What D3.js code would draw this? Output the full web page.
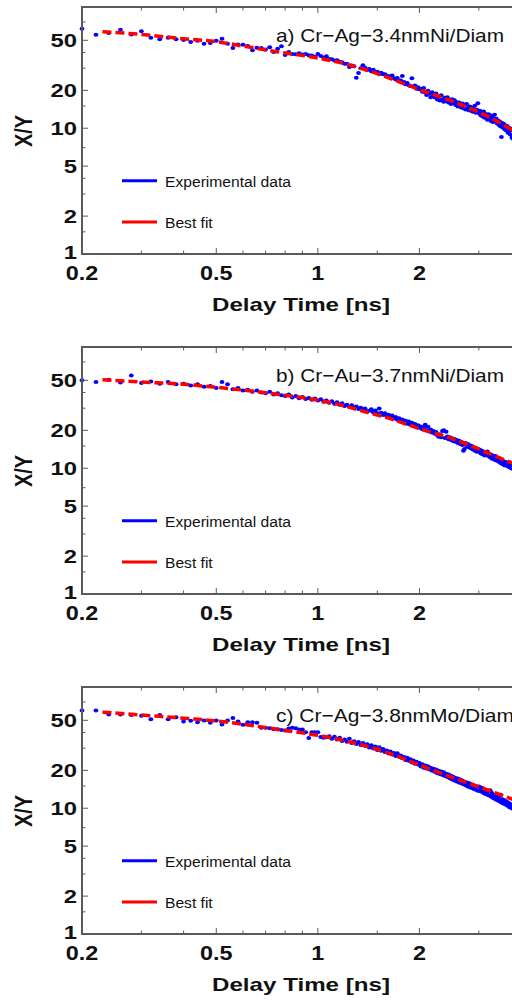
<!DOCTYPE html>
<html>
<head>
<meta charset="utf-8">
<script src="https://cdn.jsdelivr.net/npm/d3@7"></script>
<style>
  body { margin: 0; background: #fff; }
  text { font-family: "Liberation Sans", Arial, sans-serif; fill: #111; }
</style>
</head>
<body>
<svg id="chart" width="512" height="1000"></svg>
<script>
// delay times [ns]
const times = [
  0.2, 0.22, 0.24, 0.26, 0.28, 0.3, 0.32, 0.34, 0.36, 0.38,
  0.4, 0.42, 0.44, 0.46, 0.48, 0.5, 0.52, 0.54, 0.56, 0.58,
  0.6, 0.62, 0.64, 0.66, 0.68, 0.7, 0.72, 0.74, 0.76, 0.78,
  0.8, 0.82, 0.84, 0.86, 0.88, 0.9, 0.92, 0.94, 0.96, 0.98,
  1.0, 1.02, 1.04, 1.06, 1.08, 1.1, 1.12, 1.14, 1.16, 1.18,
  1.2, 1.22, 1.24, 1.26, 1.28, 1.3, 1.32, 1.34, 1.36, 1.38,
  1.4, 1.42, 1.44, 1.46, 1.48, 1.5, 1.52, 1.54, 1.56, 1.58,
  1.6, 1.62, 1.64, 1.66, 1.68, 1.7, 1.72, 1.74, 1.76, 1.78,
  1.8, 1.82, 1.84, 1.86, 1.88, 1.9, 1.92, 1.94, 1.96, 1.98,
  2.0, 2.02, 2.04, 2.06, 2.08, 2.1, 2.12, 2.14, 2.16, 2.18,
  2.2, 2.22, 2.24, 2.26, 2.28, 2.3, 2.32, 2.34, 2.36, 2.38,
  2.4, 2.42, 2.44, 2.46, 2.48, 2.5, 2.52, 2.54, 2.56, 2.58,
  2.6, 2.62, 2.64, 2.66, 2.68, 2.7, 2.72, 2.74, 2.76, 2.78,
  2.8, 2.82, 2.84, 2.86, 2.88, 2.9, 2.92, 2.94, 2.96, 2.98,
  3.0, 3.02, 3.04, 3.06, 3.08, 3.1, 3.12, 3.14, 3.16, 3.18,
  3.2, 3.22, 3.24, 3.26, 3.28, 3.3, 3.32, 3.34, 3.36, 3.38,
  3.4, 3.42, 3.44, 3.46, 3.48, 3.5, 3.52, 3.54, 3.56, 3.58,
  3.6, 3.62, 3.64, 3.66, 3.68, 3.7, 3.72, 3.74, 3.76, 3.78,
  3.8
];

// X/Y ratio, experimental
const seriesA = [
  61.8, 55.4, 57.1, 60.7, 55.7, 58.9, 52.5, 50.9, 52.5, 50.9,
  50.2, 48.4, 49.7, 47.0, 47.5, 49.7, 51.5, 47.0, 43.4, 46.4,
  46.1, 45.0, 41.6, 43.7, 43.4, 42.3, 44.0, 40.3, 42.9, 44.8,
  38.2, 40.3, 39.0, 38.7, 39.5, 38.5, 39.0, 38.0, 37.8, 37.0,
  39.0, 37.5, 36.5, 37.3, 35.5, 35.3, 34.5, 34.7, 33.8, 33.4,
  32.6, 32.5, 30.7, 31.5, 31.1, 25.2, 27.5, 30.0, 31.6, 30.3,
  29.0, 29.6, 28.4, 29.2, 27.9, 28.1, 27.0, 27.6, 26.8, 26.9,
  26.1, 25.9, 25.3, 26.2, 25.0, 24.4, 25.1, 23.6, 24.0, 26.0,
  23.3, 22.4, 22.9, 22.0, 21.7, 25.0, 21.5, 21.9, 20.6, 21.2,
  20.4, 20.6, 19.5, 20.9, 19.2, 18.4, 19.9, 18.8, 17.6, 19.3,
  18.2, 17.6, 18.9, 16.9, 17.8, 16.6, 18.3, 17.0, 16.2, 17.5,
  16.4, 17.6, 16.0, 16.8, 15.6, 17.0, 15.9, 16.7, 15.3, 16.1,
  14.9, 16.0, 15.2, 14.6, 15.7, 14.4, 15.4, 14.1, 15.6, 14.5,
  13.9, 14.9, 13.8, 14.6, 13.5, 14.2, 15.1, 13.3, 14.0, 15.8,
  13.2, 13.8, 12.7, 13.4, 12.4, 13.6, 12.1, 13.0, 12.6, 11.7,
  12.9, 11.9, 12.7, 11.4, 12.3, 11.2, 12.0, 12.8, 11.3, 11.9,
  10.9, 11.5, 10.6, 11.3, 10.3, 8.5, 11.0, 10.1, 10.8, 9.8,
  10.5, 9.6, 10.4, 9.2, 10.1, 9.5, 8.9, 9.9, 8.4, 9.7,
  8.2
];
const seriesB = [
  50.0, 48.5, 50.5, 48.0, 54.5, 47.5, 49.0, 47.0, 48.5, 46.5,
  47.0, 45.5, 46.5, 44.5, 45.0, 43.5, 48.5, 46.5, 42.5, 43.5,
  41.5, 42.0, 40.5, 41.5, 40.0, 39.5, 40.5, 38.5, 39.5, 38.0,
  37.5, 38.5, 36.5, 37.5, 36.0, 36.8, 35.5, 36.2, 35.0, 35.8,
  34.5, 35.3, 33.8, 34.6, 33.2, 34.0, 32.6, 33.5, 32.0, 32.8,
  31.3, 32.0, 30.8, 31.6, 30.2, 30.9, 29.6, 30.3, 29.0, 29.8,
  28.4, 28.6, 29.5, 27.9, 28.8, 27.4, 29.8, 27.6, 26.5, 27.3,
  26.0, 26.6, 25.4, 26.2, 24.8, 25.5, 24.3, 25.0, 23.6, 24.4,
  23.1, 23.8, 22.6, 23.5, 22.2, 23.0, 21.8, 22.5, 21.2, 22.0,
  21.0, 21.5, 20.4, 21.0, 22.2, 20.0, 21.4, 19.6, 20.3, 19.2,
  19.8, 18.8, 19.4, 18.3, 17.8, 18.6, 17.6, 19.8, 20.0, 17.4,
  19.5, 17.9, 17.0, 17.6, 16.8, 17.3, 16.4, 17.1, 16.2, 16.8,
  15.9, 16.5, 15.6, 16.2, 15.3, 13.8, 14.2, 15.9, 15.1, 15.6,
  14.7, 15.2, 14.4, 15.0, 14.1, 14.7, 13.8, 14.5, 13.5, 14.2,
  13.6, 14.0, 13.1, 13.8, 12.9, 13.5, 12.6, 13.3, 12.9, 13.6,
  12.5, 13.0, 12.2, 12.8, 11.9, 12.6, 12.3, 11.7, 12.5, 11.5,
  12.1, 11.4, 12.0, 11.1, 11.8, 10.9, 11.6, 10.7, 11.3, 10.5,
  11.2, 10.6, 11.1, 10.3, 10.9, 10.2, 10.7, 10.0, 10.6, 9.9,
  10.4
];
const seriesC = [
  59.9, 59.9, 55.7, 55.7, 55.0, 54.3, 50.9, 55.0, 50.9, 53.0,
  49.0, 49.6, 48.3, 49.9, 47.9, 49.9, 46.4, 49.9, 52.1, 49.0,
  46.2, 48.3, 48.3, 47.9, 43.7, 43.7, 43.2, 42.4, 42.4, 41.8,
  41.5, 43.0, 43.7, 43.2, 42.2, 42.2, 40.2, 36.1, 40.2, 40.2,
  40.2, 36.8, 36.4, 36.6, 37.4, 35.6, 37.0, 35.2, 36.4, 34.2,
  35.2, 33.8, 35.6, 33.0, 34.1, 32.4, 33.6, 31.8, 33.0, 31.4,
  32.2, 30.4, 31.6, 29.8, 30.9, 29.0, 30.5, 28.6, 29.6, 28.0,
  28.8, 27.2, 28.3, 26.7, 27.5, 26.0, 27.3, 25.7, 26.2, 25.0,
  25.6, 24.2, 25.2, 23.8, 24.5, 23.1, 24.0, 22.6, 23.4, 22.3,
  22.9, 21.5, 22.4, 21.0, 21.9, 20.7, 21.6, 20.3, 21.0, 19.9,
  20.6, 19.5, 20.3, 19.0, 19.9, 18.7, 19.6, 18.4, 19.3, 18.0,
  18.8, 17.7, 18.5, 17.3, 18.1, 16.9, 17.8, 16.6, 17.4, 16.3,
  17.2, 16.0, 16.9, 15.8, 16.6, 15.5, 16.2, 15.2, 16.0, 14.9,
  15.9, 14.7, 15.6, 14.5, 15.3, 14.2, 15.0, 14.0, 14.8, 13.8,
  14.9, 13.7, 14.6, 13.5, 14.4, 13.2, 14.1, 13.0, 13.9, 12.8,
  13.6, 12.6, 13.9, 12.4, 13.2, 12.1, 12.8, 11.9, 12.6, 11.7,
  12.4, 11.5, 12.1, 11.3, 12.8, 11.1, 11.8, 10.9, 11.6, 10.8,
  11.4, 10.6, 11.2, 10.4, 11.0, 10.2, 10.8, 10.1, 10.6, 9.9,
  10.5
];

// best fit curves, sampled
const fitTimes = [0.23, 0.3, 0.4, 0.5, 0.6, 0.8, 1, 1.2, 1.4, 1.6, 2, 2.5, 3, 3.5, 3.9];
const fitA = [58.5, 55.7, 51.4, 48.9, 45.0, 39.6, 36.2, 32.6, 28.9, 25.5, 20.3, 16.4, 13.4, 10.9, 9.1];
const fitB = [50.5, 48.5, 46.5, 44.0, 41.8, 38.0, 34.8, 31.3, 27.8, 25.3, 20.6, 17.2, 14.2, 11.9, 10.6];
const fitC = [58.1, 55.0, 52.0, 49.5, 46.5, 41.5, 38.0, 34.5, 31.0, 27.8, 22.0, 17.6, 14.8, 12.7, 11.4];

const panelLabels = ['a) Cr\u2212Ag\u22123.4nmNi/Diam', 'b) Cr\u2212Au\u22123.7nmNi/Diam', 'c) Cr\u2212Ag\u22123.8nmMo/Diam'];
const legendLabels = ['Experimental data', 'Best fit'];
const xMajor = [0.2, 0.5, 1, 2];
const xMinor = [0.3, 0.4, 0.6, 0.7, 0.8, 0.9, 1.5, 3];
const yMajor = [1, 2, 5, 10, 20, 50];
const yMinor = [1.5, 3, 4, 7, 15, 30, 40, 70];

const panels = [
  { label: panelLabels[0], data: seriesA, fit: fitA, labelW: 228 },
  { label: panelLabels[1], data: seriesB, fit: fitB, labelW: 228 },
  { label: panelLabels[2], data: seriesC, fit: fitC, labelW: 238 },
];

const plotLeft = 82, plotTop = 7, plotBottom = 254;
const x = d3.scaleLog().domain([0.2, 4]).range([plotLeft, 521]);
const y = d3.scaleLog().domain([1, 92]).range([plotBottom, plotTop]);
const axisColor = '#5a5a5a';

const svg = d3.select('#chart');

// stretch text horizontally (the source figure is drawn wide)
function widen(sel, k) {
  sel.each(function () {
    const w = this.getComputedTextLength();
    d3.select(this).attr('textLength', w * k).attr('lengthAdjust', 'spacingAndGlyphs');
  });
}
function fixWidth(sel, w) {
  sel.attr('textLength', w).attr('lengthAdjust', 'spacingAndGlyphs');
}

svg.append('defs').append('clipPath').attr('id', 'plotClip')
  .append('rect').attr('x', plotLeft - 4).attr('y', plotTop).attr('width', 520).attr('height', plotBottom - plotTop);

const line = d3.line()
  .curve(d3.curveMonotoneX)
  .x(d => x(d[0]))
  .y(d => y(d[1]));

panels.forEach((p, i) => {
  const g = svg.append('g').attr('transform', `translate(0,${i * 340})`);

  // data (dots a bit wide, like the stretched original)
  const plot = g.append('g').attr('clip-path', 'url(#plotClip)');
  plot.selectAll('ellipse')
    .data(times.map((t, j) => [t, p.data[j]]))
    .join('ellipse')
    .attr('cx', d => x(d[0]))
    .attr('cy', d => y(d[1]))
    .attr('rx', 2.4)
    .attr('ry', 2)
    .attr('fill', '#0000ff');

  plot.append('path')
    .attr('d', line(fitTimes.map((t, j) => [t, p.fit[j]])))
    .attr('fill', 'none')
    .attr('stroke', '#ff0000')
    .attr('stroke-width', 3.5)
    .attr('stroke-dasharray', '9,4');

  // frame
  g.append('path')
    .attr('d', `M540,${plotTop}H${plotLeft}V${plotBottom}H540`)
    .attr('fill', 'none')
    .attr('stroke', axisColor)
    .attr('stroke-width', 2);

  // ticks (inward)
  const ticks = g.append('g').attr('stroke', axisColor).attr('stroke-width', 1);
  xMajor.concat(xMinor).forEach(v => {
    const len = xMajor.includes(v) ? 6 : 3.5;
    ticks.append('line').attr('x1', x(v)).attr('x2', x(v)).attr('y1', plotBottom).attr('y2', plotBottom - len);
    ticks.append('line').attr('x1', x(v)).attr('x2', x(v)).attr('y1', plotTop).attr('y2', plotTop + len);
  });
  yMajor.concat(yMinor).forEach(v => {
    const len = yMajor.includes(v) ? 6 : 3.5;
    ticks.append('line').attr('x1', plotLeft).attr('x2', plotLeft + len).attr('y1', y(v)).attr('y2', y(v));
  });

  // tick labels
  g.selectAll('.xt').data(xMajor).join('text')
    .attr('class', 'xt')
    .attr('x', d => x(d)).attr('y', 279.5)
    .attr('text-anchor', 'middle')
    .attr('font-size', 19.5).attr('font-weight', 'bold')
    .text(d => d)
    .call(widen, 1.2);

  g.selectAll('.yt').data(yMajor).join('text')
    .attr('class', 'yt')
    .attr('x', 77).attr('y', d => y(d) + (d === 1 ? 5 : 6.5))
    .attr('text-anchor', 'end')
    .attr('font-size', 18.6).attr('font-weight', 'bold')
    .text(d => d)
    .call(widen, 1.28);

  // axis titles
  g.append('text')
    .attr('x', 301).attr('y', 310.7)
    .attr('text-anchor', 'middle')
    .attr('font-size', 18.6).attr('font-weight', 'bold')
    .text('Delay Time [ns]')
    .call(fixWidth, 178);

  g.append('text')
    .attr('transform', 'translate(32,131) rotate(-90)')
    .attr('text-anchor', 'middle')
    .attr('font-size', 23).attr('font-weight', 'bold')
    .text('X/Y')
    .call(fixWidth, 32);

  // panel label
  g.append('text')
    .attr('x', 276).attr('y', 42.3)
    .attr('font-size', 18.6)
    .text(p.label)
    .call(fixWidth, p.labelW);

  // legend
  const legend = [
    { text: legendLabels[0], color: '#0000ff', y: 180.7, w: 126 },
    { text: legendLabels[1], color: '#ff0000', y: 222, w: 47.7 },
  ];
  legend.forEach(l => {
    g.append('line')
      .attr('x1', 122).attr('x2', 157).attr('y1', l.y).attr('y2', l.y)
      .attr('stroke', l.color).attr('stroke-width', 3);
    g.append('text')
      .attr('x', 165).attr('y', l.y + 6)
      .attr('font-size', 15.5)
      .text(l.text)
      .call(fixWidth, l.w);
  });
});
</script>
</body>
</html>
